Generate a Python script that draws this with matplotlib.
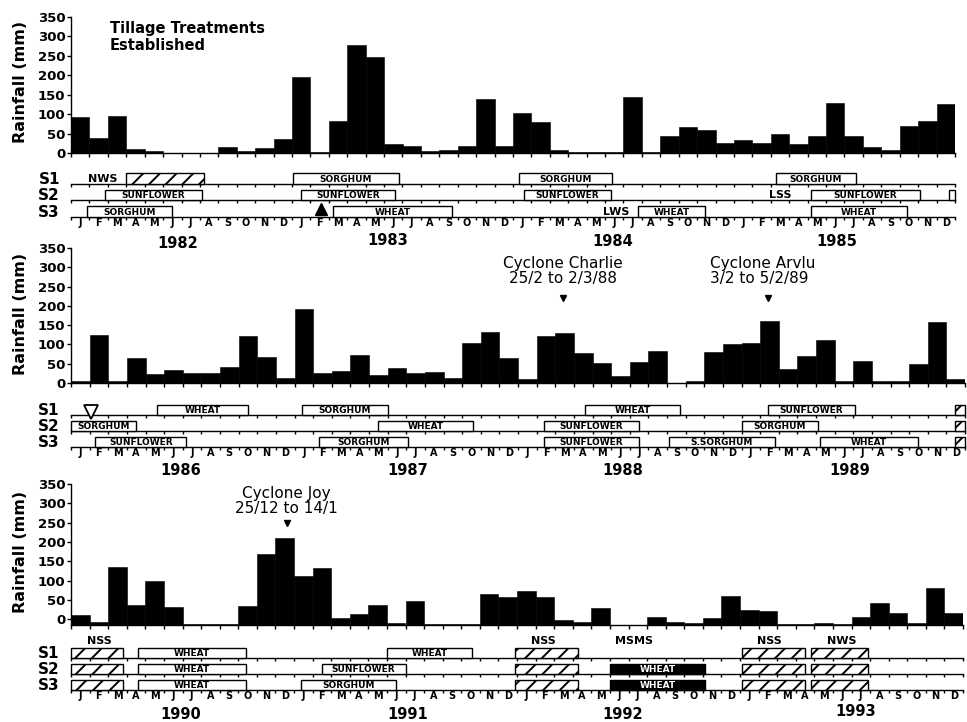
import matplotlib
matplotlib.use('Agg')
import matplotlib.pyplot as plt
from matplotlib.patches import Rectangle
import numpy as np

plt.rcParams['font.family'] = ['DejaVu Sans']
plt.rcParams['hatch.linewidth'] = 1.4

W, H = 967, 722

month_letters = ['J', 'F', 'M', 'A', 'M', 'J', 'J', 'A', 'S', 'O', 'N', 'D'] * 4
row_names = ['S1', 'S2', 'S3']

# monthly rainfall (mm)
rain_1982_85 = [92, 39, 96, 11, 4, 1, 0, 1, 15, 6, 12, 37,
                196, 2, 83, 279, 247, 22, 17, 5, 9, 19, 138, 19,
                104, 79, 8, 2, 3, 3, 143, 2, 45, 66, 58, 25,
                34, 27, 49, 24, 44, 129, 45, 15, 7, 69, 83, 125]
rain_1986_89 = [4, 125, 4, 65, 24, 34, 26, 26, 41, 121, 67, 12,
                192, 26, 31, 73, 21, 38, 26, 29, 13, 105, 132, 66,
                11, 122, 130, 77, 51, 17, 55, 83, 1, 6, 80, 100,
                103, 162, 36, 71, 111, 4, 56, 4, 6, 49, 157, 11]
# bottom panel is drawn against a baseline slightly below the 0 tick
rain_1990_93 = [11, -6, 136, 36, 99, 32, -12, -12, -12, 33, 170, 210,
                111, 132, 3, 14, 36, -9, 47, -12, -12, -12, 66, 58,
                73, 57, -3, -8, 30, -14, -14, 6, -8, -10, 3, 61,
                23, 21, -13, -13, -10, -13, 7, 43, 15, -9, 81, 15]

years_1 = ['1982', '1983', '1984', '1985']
years_2 = ['1986', '1987', '1988', '1989']
years_3 = ['1990', '1991', '1992', '1993']

# crop sequences: (row, start month, end month, label, kind)
crops_1 = [(0, 3.0, 7.2, '', 'hatch'), (0, 12.05, 17.8, 'SORGHUM', 'open'),
           (0, 24.3, 29.4, 'SORGHUM', 'open'), (0, 38.3, 42.6, 'SORGHUM', 'open'),
           (1, 1.85, 7.1, 'SUNFLOWER', 'open'), (1, 12.5, 17.6, 'SUNFLOWER', 'open'),
           (1, 24.6, 29.3, 'SUNFLOWER', 'open'), (1, 40.2, 46.1, 'SUNFLOWER', 'open'),
           (1, 47.65, 48.0, '', 'open'),
           (2, 0.87, 5.5, 'SORGHUM', 'open'), (2, 14.2, 20.7, 'WHEAT', 'open'),
           (2, 30.8, 34.4, 'WHEAT', 'open'), (2, 40.2, 45.4, 'WHEAT', 'open')]
crops_2 = [(0, 4.6, 9.5, 'WHEAT', 'open'), (0, 12.4, 17.0, 'SORGHUM', 'open'),
           (0, 27.6, 32.7, 'WHEAT', 'open'), (0, 37.4, 42.1, 'SUNFLOWER', 'open'),
           (0, 47.45, 48.0, '', 'hatch'),
           (1, 0.0, 3.5, 'SORGHUM', 'open'), (1, 16.5, 21.6, 'WHEAT', 'open'),
           (1, 25.4, 30.5, 'SUNFLOWER', 'open'), (1, 36.0, 40.1, 'SORGHUM', 'open'),
           (1, 47.45, 48.0, '', 'hatch'),
           (2, 1.3, 6.2, 'SUNFLOWER', 'open'), (2, 13.3, 18.1, 'SORGHUM', 'open'),
           (2, 25.4, 30.5, 'SUNFLOWER', 'open'), (2, 32.1, 37.8, 'S.SORGHUM', 'open'),
           (2, 40.2, 45.5, 'WHEAT', 'open'), (2, 47.45, 48.0, '', 'hatch')]
crops_3 = [(0, 0.0, 2.8, '', 'hatch'), (0, 3.6, 9.4, 'WHEAT', 'open'),
           (0, 17.0, 21.6, 'WHEAT', 'open'), (0, 23.9, 27.3, '', 'hatch'),
           (0, 36.1, 39.5, '', 'hatch'), (0, 39.8, 42.9, '', 'hatch'),
           (1, 0.0, 2.8, '', 'hatch'), (1, 3.6, 9.4, 'WHEAT', 'open'),
           (1, 13.5, 18.0, 'SUNFLOWER', 'open'), (1, 23.9, 27.3, '', 'hatch'),
           (1, 29.0, 34.1, 'WHEAT', 'solid'), (1, 36.1, 39.5, '', 'hatch'),
           (1, 39.8, 42.9, '', 'hatch'),
           (2, 0.0, 2.8, '', 'hatch'), (2, 3.6, 9.4, 'WHEAT', 'open'),
           (2, 12.4, 17.5, 'SORGHUM', 'open'), (2, 23.9, 27.3, '', 'hatch'),
           (2, 29.0, 34.1, 'WHEAT', 'solid'), (2, 36.1, 39.5, '', 'hatch'),
           (2, 39.8, 42.9, '', 'hatch')]

# fallow / treatment codes written on the crop rows
codes_1 = [(0, 1.7, 'NWS'), (1, 38.5, 'LSS'), (2, 29.6, 'LWS')]
codes_2 = []
codes_3 = [(-1.05, 1.55, 'NSS'), (-1.05, 25.4, 'NSS'), (-1.05, 30.3, 'MSMS'),
           (-1.05, 37.6, 'NSS'), (-1.05, 41.5, 'NWS')]

panels = [
    dict(rain=rain_1982_85, years=years_1, crops=crops_1, codes=codes_1,
         x1=955, top=17, base=153, ymin=0, s1=184, gap=16.5,
         year_x=[5.8, 17.2, 29.4, 41.6], year_off=[-19, -17, -17.5, -17.5], ylab=82),
    dict(rain=rain_1986_89, years=years_2, crops=crops_2, codes=codes_2,
         x1=965, top=248, base=383, ymin=0, s1=415, gap=16,
         year_x=[5.9, 18.1, 29.6, 41.8], year_off=[-17, -17, -17, -17], ylab=314),
    dict(rain=rain_1990_93, years=years_3, crops=crops_3, codes=codes_3,
         x1=963, top=484, base=625, ymin=-15, s1=658, gap=16,
         year_x=[5.9, 18.1, 29.7, 42.2], year_off=[-17.5, -17.5, -17.5, -15.5], ylab=552),
]

fig = plt.figure(figsize=(W / 100, H / 100), dpi=100)


def px_axes(x0, top, x1, bottom):
    return fig.add_axes([x0 / W, 1 - bottom / H, (x1 - x0) / W, (bottom - top) / H])


bar_axes = []
crop_axes = []
for p in panels:
    # rainfall bars
    ax = px_axes(71, p['top'], p['x1'], p['base'])
    rain = np.array(p['rain'])
    ax.bar(np.arange(48) + 0.5, rain - p['ymin'], bottom=p['ymin'], width=1.0,
           color='black', edgecolor='black', linewidth=0.4)
    ax.set_xlim(0, 48)
    ax.set_ylim(p['ymin'], 350)
    ax.set_xticks(np.arange(49))
    ax.set_yticks(np.arange(0, 351, 50))
    ax.tick_params(axis='x', length=3, width=1, labelbottom=False)
    ax.tick_params(axis='y', length=3, width=1, pad=1, labelsize=9.5)
    for lab in ax.get_yticklabels():
        lab.set_fontweight('bold')
    for s in ['top', 'right']:
        ax.spines[s].set_visible(False)
    ax.spines['left'].set_linewidth(1)
    ax.spines['bottom'].set_linewidth(1)
    fig.text(21 / W, 1 - p['ylab'] / H, 'Rainfall (mm)', rotation=90,
             ha='center', va='center', fontsize=11.5, fontweight='bold')
    bar_axes.append(ax)

    # crop sequence rows
    g = p['gap']
    cx = px_axes(71, p['s1'] - 1.3 * g, p['x1'], p['s1'] + 2 * g)
    cx.set_xlim(0, 48)
    cx.set_ylim(2, -1.3)
    cx.set_yticks([])
    for s in ['top', 'right', 'left']:
        cx.spines[s].set_visible(False)
    cx.spines['bottom'].set_linewidth(1)
    cx.set_xticks(np.arange(48) + 0.5)
    cx.set_xticklabels(month_letters, fontsize=7, fontweight='bold')
    cx.set_xticks(np.arange(49), minor=True)
    cx.tick_params(axis='x', which='major', length=0, pad=1)
    cx.tick_params(axis='x', which='minor', length=2, width=1)
    for r in [0, 1]:
        cx.plot([0, 48], [r, r], color='black', lw=1, clip_on=False)
        cx.plot(np.arange(49), [r] * 49, ls='none', marker=3, ms=2, mew=1,
                color='black', clip_on=False)
    for r, name in enumerate(row_names):
        cx.text(-0.6, r - 0.3, name, ha='right', va='center',
                fontsize=11, fontweight='bold')
    for r, s, e, label, kind in p['crops']:
        fc = {'open': 'white', 'hatch': 'white', 'solid': 'black'}[kind]
        cx.add_patch(Rectangle((s, r - 0.65), e - s, 0.65, facecolor=fc,
                               edgecolor='black', lw=1,
                               hatch='//' if kind == 'hatch' else None,
                               clip_on=False, zorder=3))
        if label:
            cx.text((s + e) / 2, r - 0.3, label, ha='center', va='center',
                    fontsize=6.5, fontweight='bold', zorder=4,
                    color='white' if kind == 'solid' else 'black')
    for y, x, code in p['codes']:
        cx.text(x, y - 0.32 if y >= 0 else y, code, ha='center', va='center',
                fontsize=8, fontweight='bold', clip_on=False)
    for yr, x, off in zip(p['years'], p['year_x'], p['year_off']):
        cx.annotate(yr, xy=(x, 0), xycoords=('data', 'axes fraction'),
                    xytext=(0, off), textcoords='offset points',
                    ha='center', va='center', fontsize=10.5, fontweight='bold')
    crop_axes.append(cx)

# event markers
crop_axes[0].plot(13.6, 1.5, marker='^', ms=9, color='black', clip_on=False, zorder=5)
crop_axes[1].plot(1.1, -0.2, marker='v', ms=9.5, mfc='white', mec='black', mew=1.3,
                  clip_on=False, zorder=5)

bar_axes[0].text(2.1, 298, 'Tillage Treatments\nEstablished', ha='left', va='center',
                 fontsize=10.5, fontweight='bold', linespacing=1.15)
bar_axes[1].plot(26.4, 220, marker='v', ms=5, color='black', clip_on=False)
bar_axes[1].text(26.4, 290, 'Cyclone Charlie\n25/2 to 2/3/88', ha='center', va='center',
                 fontsize=11, linespacing=1.05)
bar_axes[1].plot(37.4, 220, marker='v', ms=5, color='black', clip_on=False)
bar_axes[1].text(34.3, 290, 'Cyclone Arvlu\n3/2 to 5/2/89', ha='left', va='center',
                 fontsize=11, linespacing=1.05)
bar_axes[2].plot(11.6, 249, marker='v', ms=5, color='black', clip_on=False)
bar_axes[2].text(11.6, 306, 'Cyclone Joy\n25/12 to 14/1', ha='center', va='center',
                 fontsize=11, linespacing=0.95)

fig.savefig('out.png', dpi=100)
